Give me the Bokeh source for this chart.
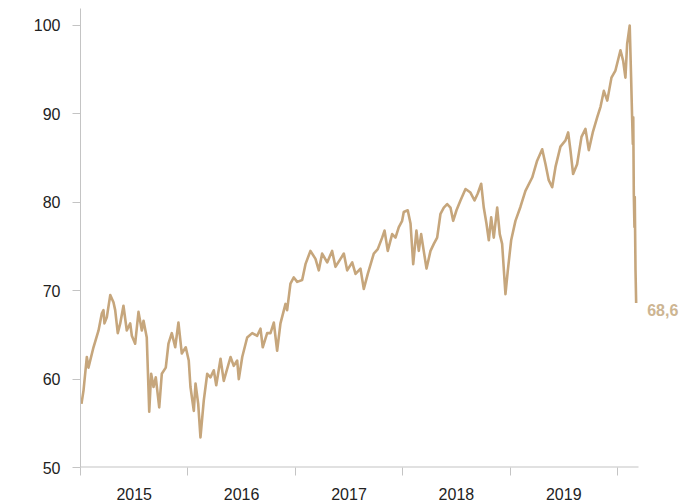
from bokeh.plotting import figure
from bokeh.models import FixedTicker, Range1d
from bokeh.core.properties import value
from bokeh.embed import file_html
from bokeh.resources import INLINE

# Decimal-year positions and index values
t = [2015.009, 2015.028, 2015.059, 2015.074, 2015.121, 2015.168, 2015.198, 2015.214, 2015.223, 2015.245,
     2015.277, 2015.307, 2015.323, 2015.347, 2015.370, 2015.400, 2015.431, 2015.463, 2015.478, 2015.509,
     2015.540, 2015.571, 2015.587, 2015.617, 2015.640, 2015.658, 2015.680, 2015.701, 2015.733, 2015.757,
     2015.794, 2015.819, 2015.850, 2015.882, 2015.912, 2015.943, 2015.980, 2016.008, 2016.024, 2016.055,
     2016.071, 2016.096, 2016.117, 2016.148, 2016.180, 2016.210, 2016.241, 2016.264, 2016.304, 2016.334,
     2016.397, 2016.427, 2016.459, 2016.474, 2016.506, 2016.552, 2016.599, 2016.645, 2016.676, 2016.697,
     2016.738, 2016.769, 2016.800, 2016.831, 2016.862, 2016.909, 2016.924, 2016.955, 2016.986,
     2017.018, 2017.064, 2017.095, 2017.141, 2017.188, 2017.219, 2017.250, 2017.297, 2017.343, 2017.374,
     2017.421, 2017.452, 2017.483, 2017.530, 2017.561, 2017.607, 2017.638, 2017.675, 2017.731, 2017.768,
     2017.809, 2017.831, 2017.861, 2017.902, 2017.933, 2017.964, 2017.995,
     2018.010, 2018.047, 2018.073, 2018.098, 2018.128, 2018.150, 2018.172, 2018.196, 2018.222, 2018.259,
     2018.290, 2018.321, 2018.352, 2018.383, 2018.414, 2018.445, 2018.470, 2018.501, 2018.538, 2018.585,
     2018.631, 2018.669, 2018.699, 2018.731, 2018.755, 2018.780, 2018.802, 2018.824, 2018.848, 2018.880,
     2018.904, 2018.926, 2018.957, 2018.979,
     2019.010, 2019.050, 2019.097, 2019.143, 2019.206, 2019.252, 2019.299, 2019.330, 2019.360, 2019.392,
     2019.423, 2019.469, 2019.516, 2019.541, 2019.562, 2019.587, 2019.624, 2019.665, 2019.702, 2019.733,
     2019.770, 2019.811, 2019.842, 2019.873, 2019.905, 2019.944, 2019.981,
     2020.028, 2020.053, 2020.074, 2020.090, 2020.114, 2020.127, 2020.137, 2020.143, 2020.147, 2020.152,
     2020.158, 2020.161, 2020.168, 2020.174]
v = [57.2, 58.7, 62.5, 61.3, 63.6, 65.5, 67.4, 67.8, 66.3, 67.0,
     69.5, 68.7, 67.8, 65.2, 66.3, 68.3, 65.5, 66.3, 64.9, 64.0,
     67.6, 65.5, 66.6, 64.7, 56.3, 60.6, 59.1, 60.2, 56.8, 60.6,
     61.3, 64.0, 65.2, 63.6, 66.4, 62.9, 63.6, 62.1, 59.1, 56.4,
     59.5, 57.2, 53.4, 57.6, 60.6, 60.2, 61.0, 59.3, 62.3, 59.8,
     62.5, 61.5, 62.1, 60.0, 62.5, 64.7, 65.2, 64.9, 65.7, 63.6,
     65.2, 65.2, 66.4, 63.2, 66.3, 68.5, 67.8, 70.8, 71.5,
     71.0, 71.2, 73.0, 74.5, 73.6, 72.3, 74.2, 73.2, 74.5, 72.7,
     73.6, 74.2, 72.3, 73.2, 71.9, 72.5, 70.2, 71.9, 74.2, 74.7,
     76.0, 76.8, 74.5, 76.4, 76.0, 77.2, 77.9,
     78.9, 79.1, 77.6, 73.0, 76.8, 74.5, 76.4, 74.5, 72.5, 74.5,
     75.3, 76.0, 78.7, 79.4, 79.8, 79.4, 77.9, 79.1, 80.2, 81.5,
     81.1, 80.2, 81.0, 82.1, 79.4, 77.6, 75.7, 78.3, 76.0, 79.4,
     76.4, 75.3, 69.6, 72.3,
     75.7, 77.9, 79.5, 81.3, 82.8, 84.7, 86.0, 84.3, 82.5, 81.7,
     84.0, 86.3, 87.0, 87.9, 85.9, 83.2, 84.3, 87.4, 88.3, 85.9,
     87.9, 89.6, 90.8, 92.6, 91.5, 94.1, 94.9,
     97.2, 96.0, 94.1, 97.9, 100.0, 94.1, 89.3, 86.6, 89.6, 81.0,
     77.2, 80.6, 72.3, 68.6]

years = [2015, 2016, 2017, 2018, 2019]
year_bounds = [2015, 2016, 2017, 2018, 2019, 2020]
y_ticks = [50, 60, 70, 80, 90, 100]
axis_end = 2020.196
last_label = "68,6"

LINE = "#C6A67C"
AXIS = "#C4C4C4"
TEXT = "#222222"
FONT = "Liberation Sans"

p = figure(width=700, height=502, output_backend="svg", toolbar_location=None,
           x_range=Range1d(2015.0, 2020.68), y_range=Range1d(50, 101.92),
           min_border_left=80, min_border_right=10, min_border_top=8, min_border_bottom=35)
p.outline_line_color = None
p.xgrid.visible = False
p.ygrid.visible = False
p.background_fill_color = "white"
p.border_fill_color = "white"

# x baseline (ends shortly after the data, like the reference)
p.segment(x0=[year_bounds[0]], y0=[y_ticks[0]], x1=[axis_end], y1=[y_ticks[0]],
          line_color=AXIS, line_width=2)

p.line(t, v, line_color=LINE, line_width=2.6, line_join="round")

p.text(x=[t[-1]], y=[v[-1]], text=[last_label], x_offset=11, y_offset=7,
       text_font=value(FONT), text_font_size="16px", text_font_style="bold",
       text_color="#CDB592", text_baseline="middle", text_align="left")

# y axis
ya = p.yaxis[0]
ya.ticker = FixedTicker(ticks=y_ticks)
ya.axis_line_color = AXIS
ya.major_tick_line_color = AXIS
ya.major_tick_out = 8
ya.major_tick_in = 0
ya.minor_tick_line_color = None
ya.major_label_standoff = 12
ya.major_label_text_font = FONT
ya.major_label_text_font_size = "16px"
ya.major_label_text_color = TEXT

# x axis: year labels centred between boundary ticks
xa = p.xaxis[0]
mids = [y + 0.5 for y in years]
xa.ticker = FixedTicker(ticks=mids, minor_ticks=year_bounds)
xa.major_label_overrides = {m: str(y) for m, y in zip(mids, years)}
xa.axis_line_color = None
xa.major_tick_line_color = None
xa.major_tick_out = 0
xa.major_tick_in = 0
xa.minor_tick_line_color = AXIS
xa.minor_tick_out = 8
xa.minor_tick_in = 0
xa.major_label_standoff = 12
xa.major_label_text_font = FONT
xa.major_label_text_font_size = "16px"
xa.major_label_text_color = TEXT

open("out.html", "w").write(file_html(p, INLINE))
